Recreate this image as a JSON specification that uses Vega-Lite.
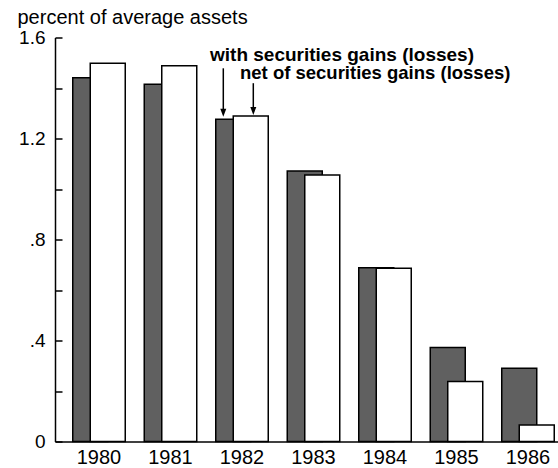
{
  "$schema": "https://vega.github.io/schema/vega-lite/v6.json",
  "width": 503,
  "height": 404,
  "autosize": {"type": "none"},
  "padding": {"left": 55, "top": 37.5, "right": 0, "bottom": 26.5},
  "background": "white",
  "config": {
    "view": {"stroke": null},
    "font": "Liberation Sans",
    "axis": {"domainColor": "black", "tickColor": "black", "labelColor": "black", "titleColor": "black", "grid": false}
  },
  "datasets": {
    "bars": [
      {"year": "1980", "series": "with", "value": 1.441},
      {"year": "1980", "series": "net", "value": 1.498},
      {"year": "1981", "series": "with", "value": 1.415},
      {"year": "1981", "series": "net", "value": 1.488},
      {"year": "1982", "series": "with", "value": 1.276},
      {"year": "1982", "series": "net", "value": 1.289},
      {"year": "1983", "series": "with", "value": 1.071},
      {"year": "1983", "series": "net", "value": 1.055},
      {"year": "1984", "series": "with", "value": 0.688},
      {"year": "1984", "series": "net", "value": 0.686},
      {"year": "1985", "series": "with", "value": 0.372},
      {"year": "1985", "series": "net", "value": 0.238},
      {"year": "1986", "series": "with", "value": 0.29},
      {"year": "1986", "series": "net", "value": 0.065}
    ],
    "notes": [
      {"year": "1982", "series": "with", "label": "with securities gains (losses)", "ty": 1.508, "top": 1.478, "tip": 1.302},
      {"year": "1982", "series": "net", "label": "net of securities gains (losses)", "ty": 1.434, "top": 1.419, "tip": 1.309}
    ]
  },
  "layer": [
    {
      "data": {"name": "bars"},
      "transform": [{"filter": "datum.series == 'with'"}],
      "mark": {"type": "bar", "width": 35, "xOffset": -1.75, "fill": "#606060", "stroke": "black", "strokeWidth": 1.5},
      "encoding": {
        "x": {
          "field": "year", "type": "nominal",
          "scale": {"paddingInner": 0, "paddingOuter": 0.0175},
          "axis": {"title": null, "ticks": false, "labelAngle": 0, "labelFontSize": 20, "labelPadding": 6, "labelOffset": 7, "domainWidth": 1.5}
        },
        "y": {
          "field": "value", "type": "quantitative",
          "scale": {"domain": [0, 1.6], "nice": false},
          "axis": {
            "domain": true,
            "domainWidth": 1.5,
            "ticks": false,
            "tickSize": 0,
            "grid": true,
            "gridColor": "black",
            "gridWidth": 1.5,
            "gridDash": [7, 1000],
            "title": "percent of average assets",
            "titleAngle": 0, "titleAlign": "left", "titleBaseline": "alphabetic",
            "titleX": -38, "titleY": -14.5, "titleFontSize": 20, "titleFontWeight": "normal",
            "values": [0, 0.2, 0.4, 0.6, 0.8, 1.0, 1.2, 1.4, 1.6],
            "labelExpr": "round(datum.value*10) % 4 != 0 ? '' : (datum.value == 0 ? '0' : (datum.value < 1 ? replace(format(datum.value,'.1f'),'0.','.') : format(datum.value,'.1f')))",
            "labelPadding": 10, "labelFontSize": 19
          }
        }
      }
    },
    {
      "data": {"name": "bars"},
      "transform": [{"filter": "datum.series == 'net'"}],
      "mark": {"type": "bar", "width": 35, "xOffset": 15.75, "fill": "white", "stroke": "black", "strokeWidth": 1.5},
      "encoding": {
        "x": {"field": "year", "type": "nominal"},
        "y": {"field": "value", "type": "quantitative"}
      }
    },
    {
      "data": {"name": "notes"},
      "transform": [{"filter": "datum.series == 'with'"}],
      "mark": {"type": "text", "align": "left", "baseline": "alphabetic", "dx": -25, "fontWeight": "bold", "fontSize": 19, "color": "black"},
      "encoding": {
        "x": {"field": "year", "type": "nominal"},
        "y": {"field": "ty", "type": "quantitative"},
        "text": {"field": "label"}
      }
    },
    {
      "data": {"name": "notes"},
      "transform": [{"filter": "datum.series == 'net'"}],
      "mark": {"type": "text", "align": "left", "baseline": "alphabetic", "dx": 5, "fontWeight": "bold", "fontSize": 18.5, "color": "black"},
      "encoding": {
        "x": {"field": "year", "type": "nominal"},
        "y": {"field": "ty", "type": "quantitative"},
        "text": {"field": "label"}
      }
    },
    {
      "data": {"name": "notes"},
      "transform": [{"filter": "datum.series == 'with'"}],
      "mark": {"type": "rule", "xOffset": -11.7, "strokeWidth": 1.5, "color": "black"},
      "encoding": {
        "x": {"field": "year", "type": "nominal"},
        "y": {"field": "top", "type": "quantitative"},
        "y2": {"field": "tip"}
      }
    },
    {
      "data": {"name": "notes"},
      "transform": [{"filter": "datum.series == 'net'"}],
      "mark": {"type": "rule", "xOffset": 18.3, "strokeWidth": 1.5, "color": "black"},
      "encoding": {
        "x": {"field": "year", "type": "nominal"},
        "y": {"field": "top", "type": "quantitative"},
        "y2": {"field": "tip"}
      }
    },
    {
      "data": {"name": "notes"},
      "transform": [{"filter": "datum.series == 'with'"}],
      "mark": {"type": "point", "shape": "M-0.75,-1L0.75,-1L0,1Z", "filled": true, "color": "black", "opacity": 1, "size": 64, "xOffset": -11.7},
      "encoding": {
        "x": {"field": "year", "type": "nominal"},
        "y": {"field": "tip", "type": "quantitative"}
      }
    },
    {
      "data": {"name": "notes"},
      "transform": [{"filter": "datum.series == 'net'"}],
      "mark": {"type": "point", "shape": "M-0.75,-1L0.75,-1L0,1Z", "filled": true, "color": "black", "opacity": 1, "size": 64, "xOffset": 18.3},
      "encoding": {
        "x": {"field": "year", "type": "nominal"},
        "y": {"field": "tip", "type": "quantitative"}
      }
    }
  ]
}
